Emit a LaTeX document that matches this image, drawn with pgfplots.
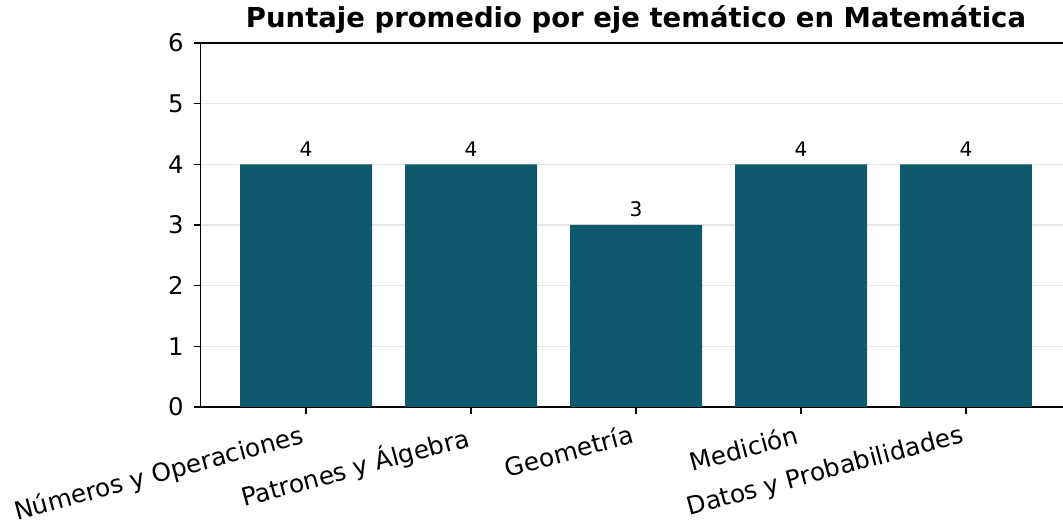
\documentclass[border=0pt]{standalone}
\usepackage{fontspec}
\setmainfont{DejaVu Sans}
\usepackage{pgfplots}
\pgfplotsset{compat=1.18}
\definecolor{barteal}{HTML}{0E596B}
\definecolor{gridgray}{HTML}{E6E6E6}

\begin{document}
\begin{tikzpicture}
\begin{axis}[
  scale only axis,
  width=627.3pt, height=262.1pt,
  xmin=-0.64, xmax=4.64,
  ymin=0, ymax=6,
  ybar, bar width=0.8, bar shift=0pt,
  xtick={0,...,4},
  xticklabels={Números y Operaciones, Patrones y Álgebra, Geometría, Medición, Datos y Probabilidades},
  ytick={0,...,6},
  xtick pos=lower, ytick pos=left,
  tick align=outside,
  major tick length=5pt,
  tick style={black, line width=0.8pt},
  axis line style={black, line width=0.8pt},
  ymajorgrids,
  grid style={gridgray, line width=0.8pt},
  /pgf/number format/assume math mode=true,
  x tick label style={rotate=15, anchor=north east, inner sep=0pt,
    font=\fontsize{17.9}{20}\selectfont, yshift=-5.5pt, xshift=-6pt},
  y tick label style={anchor=east, inner sep=0pt,
    font=\fontsize{17.5}{20}\selectfont, xshift=-7pt},
  nodes near coords,
  nodes near coords style={font=\fontsize{14.5}{16}\selectfont, anchor=south,
    inner sep=0pt, yshift=5.5pt, black},
  title={Puntaje promedio por eje temático en Matemática},
  title style={at={(0.5,1)}, anchor=base, inner sep=0pt, yshift=5pt,
    font=\bfseries\fontsize{19.8}{22}\selectfont},
  clip=false,
]
\addplot[fill=barteal, draw=none] coordinates {
  (0,4) (1,4) (2,3) (3,4) (4,4)
};
\coordinate (bl) at (axis cs:-1.855,-1.945);
\coordinate (tr) at (axis cs:4.588,6.709);
\end{axis}
\pgfresetboundingbox
\useasboundingbox (bl) rectangle (tr);
\end{tikzpicture}
\end{document}
